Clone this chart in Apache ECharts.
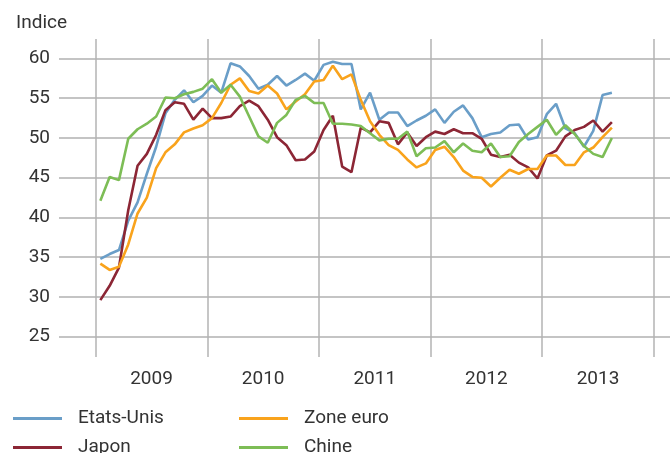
<!DOCTYPE html>
<html style="height: 100%">
<head>
    <meta charset="UTF-8">
    <title>Indice</title>
    <script type="text/javascript" src="https://cdn.jsdelivr.net/npm/echarts@6/dist/echarts.min.js"></script>
</head>
<body style="height: 100%; margin: 0; background: #fff">
    <div id="container" style="width: 670px; height: 453px"></div>

    <script type="text/javascript">
        // monthly values, Jan 2009 -> Aug 2013
        var years = ['2009', '2010', '2011', '2012', '2013'];
        var yTicks = [25, 60, 5];

        var etatsUnis = [34.8, 35.4, 35.9, 39.6, 41.9, 45.5, 48.9, 53.1, 54.8, 56.0, 54.5, 55.3,
            56.6, 55.7, 59.4, 59.0, 57.8, 56.2, 56.7, 57.8, 56.6, 57.3, 58.1, 57.2,
            59.2, 59.6, 59.3, 59.3, 53.6, 55.7, 52.3, 53.2, 53.2, 51.5, 52.2, 52.8,
            53.6, 51.9, 53.3, 54.1, 52.5, 50.1, 50.5, 50.7, 51.6, 51.7, 49.8, 50.1,
            53.0, 54.3, 51.2, 50.6, 48.9, 50.9, 55.4, 55.7];
        var japon = [29.6, 31.4, 33.7, 40.9, 46.5, 48.0, 50.4, 53.5, 54.5, 54.3, 52.3, 53.7,
            52.5, 52.5, 52.7, 54.0, 54.7, 54.0, 52.3, 50.1, 49.1, 47.2, 47.3, 48.3,
            51.0, 52.8, 46.4, 45.7, 51.3, 50.7, 52.1, 51.9, 49.2, 50.7, 49.0, 50.1,
            50.8, 50.5, 51.1, 50.6, 50.6, 49.9, 47.9, 47.6, 47.9, 46.9, 46.3, 44.9,
            47.8, 48.4, 50.2, 51.0, 51.4, 52.2, 50.8, 52.0];
        var zoneEuro = [34.2, 33.4, 33.8, 36.6, 40.5, 42.5, 46.2, 48.2, 49.2, 50.7, 51.2, 51.6,
            52.5, 54.4, 56.7, 57.5, 55.9, 55.6, 56.6, 55.6, 53.6, 54.6, 55.5, 57.1,
            57.3, 59.1, 57.4, 58.0, 54.8, 52.1, 50.4, 49.1, 48.5, 47.3, 46.3, 46.8,
            48.5, 48.9, 47.6, 45.9, 45.1, 45.0, 43.9, 45.0, 46.0, 45.5, 46.1, 46.1,
            47.8, 47.8, 46.6, 46.6, 48.2, 48.8, 50.1, 51.3];
        var chine = [42.1, 45.1, 44.7, 49.9, 51.1, 51.8, 52.7, 55.1, 55.0, 55.5, 55.8, 56.2,
            57.4, 55.7, 56.7, 55.2, 52.7, 50.2, 49.4, 51.9, 52.9, 54.8, 55.3, 54.4,
            54.4, 51.8, 51.8, 51.7, 51.5, 50.6, 49.7, 49.9, 49.9, 50.8, 47.7, 48.7,
            48.8, 49.6, 48.2, 49.3, 48.4, 48.2, 49.3, 47.6, 47.7, 49.5, 50.5, 51.4,
            52.3, 50.4, 51.6, 50.5, 49.0, 48.0, 47.6, 50.0];

        var names = ['Etats-Unis', 'Japon', 'Zone euro', 'Chine'];
        var colors = ['#6a9ec8', '#8c2635', '#f9a31c', '#7dbd56'];
        var values = [etatsUnis, japon, zoneEuro, chine];

        var txt = '#333';
        var font = 'Roboto';

        // each point sits mid-month, x counted in months from Jan 2009
        function toPoints(arr) {
            return arr.map(function (v, i) { return [i + 0.5, v]; });
        }

        // one legend per entry: 2 columns x 2 rows
        var legendPos = [[8, 404], [8, 433], [234, 404], [234, 433]];
        function makeLegend(name, k) {
            return {
                data: [name],
                left: legendPos[k][0],
                top: legendPos[k][1],
                icon: 'rect',
                itemWidth: 49,
                itemHeight: 3,
                textStyle: { fontSize: 19, color: txt, fontFamily: font, padding: [0, 0, 0, 11] }
            };
        }

        var myChart = echarts.init(document.getElementById('container'));

        var option = {
            animation: false,
            title: {
                text: 'Indice',
                left: 11,
                top: 9,
                textStyle: { fontSize: 19, fontWeight: 'normal', color: txt, fontFamily: font }
            },
            legend: names.map(makeLegend),
            grid: [
                { left: 59, right: 0, top: 58.5, bottom: 116.3 },
                { left: 95.7, right: 16.2, top: 39, bottom: 96 }
            ],
            xAxis: [{
                gridIndex: 0,
                type: 'value',
                min: -3.946,
                max: 61.75,
                show: false,
                splitLine: { show: false }
            }, {
                gridIndex: 1,
                type: 'category',
                data: years,
                boundaryGap: true,
                axisLine: { show: false },
                axisTick: { show: false },
                axisLabel: { fontSize: 19, color: txt, fontFamily: font, margin: 13 },
                splitLine: { show: true, interval: 0, lineStyle: { color: '#b3b3b3', width: 1.5 } }
            }],
            yAxis: [{
                gridIndex: 0,
                type: 'value',
                min: yTicks[0],
                max: yTicks[1],
                interval: yTicks[2],
                axisLine: { show: false },
                axisTick: { show: false },
                axisLabel: { fontSize: 19, color: txt, fontFamily: font, margin: 9 },
                splitLine: { lineStyle: { color: '#c4c4c4', width: 2 } }
            }, {
                gridIndex: 1,
                type: 'value',
                min: 0,
                max: 1,
                show: false,
                splitLine: { show: false }
            }],
            series: names.map(function (n, k) {
                return {
                    name: n,
                    type: 'line',
                    xAxisIndex: 0,
                    yAxisIndex: 0,
                    symbol: 'none',
                    color: colors[k],
                    lineStyle: { width: 2.6, color: colors[k] },
                    data: toPoints(values[k])
                };
            })
        };

        myChart.setOption(option);
    </script>
</body>
</html>
